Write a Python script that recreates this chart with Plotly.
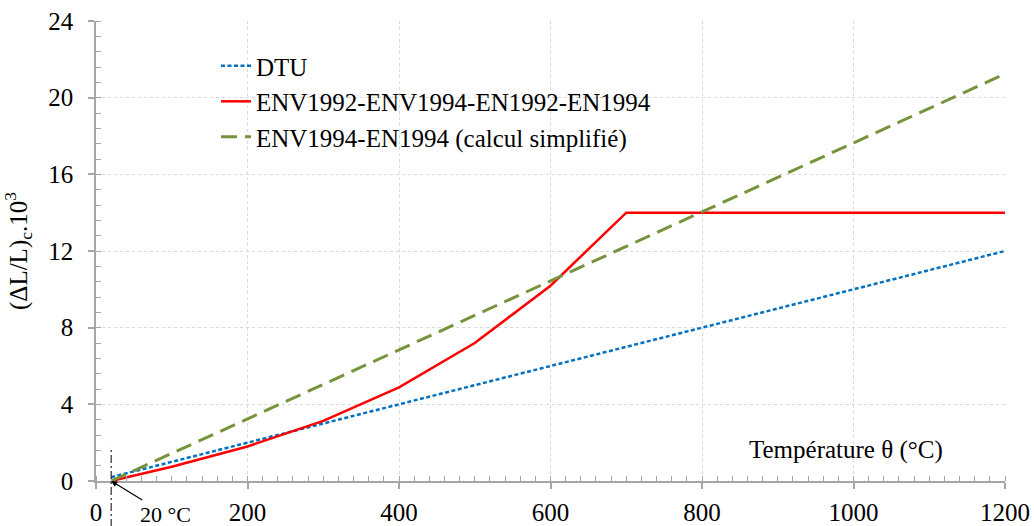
import plotly.graph_objects as go

# Data
theta_dtu = [20, 1200]
dtu = [0.2, 12.0]

theta_en = [20, 100, 200, 300, 400, 500, 600, 700, 800, 900, 1000, 1100, 1200]
en = [0.0, 0.74, 1.80, 3.14, 4.89, 7.20, 10.19, 14.0, 14.0, 14.0, 14.0, 14.0, 14.0]

theta_simp = [20, 1200]
simp = [0.0, 21.24]

names = ["DTU", "ENV1992-ENV1994-EN1992-EN1994", "ENV1994-EN1994 (calcul simplifié)"]

FONT = "Liberation Serif"
AXC = "#a6a6a6"

fig = go.Figure()
fig.add_trace(go.Scatter(x=theta_dtu, y=dtu, mode="lines", name=names[0],
                         line=dict(color="#0070c0", width=2.5, dash="4px,2.5px")))
fig.add_trace(go.Scatter(x=theta_en, y=en, mode="lines", name=names[1],
                         line=dict(color="#ff0000", width=2.5)))
fig.add_trace(go.Scatter(x=theta_simp, y=simp, mode="lines", name=names[2],
                         line=dict(color="#77933c", width=3, dash="16px,8px")))

fig.update_layout(
    width=1034, height=526,
    margin=dict(l=96, r=29, t=21, b=45),
    paper_bgcolor="white", plot_bgcolor="white",
    font=dict(family=FONT, size=25, color="black"),
    showlegend=True,
    legend=dict(x=0.132, y=0.952, xanchor="left", yanchor="top",
                bgcolor="rgba(0,0,0,0)", font=dict(family=FONT, size=25, color="black"),
                tracegroupgap=0),
    xaxis=dict(range=[0, 1200], tickvals=[0, 200, 400, 600, 800, 1000, 1200],
               automargin=False,
               showline=True, linecolor=AXC, linewidth=1.5,
               ticks="outside", ticklen=6, tickcolor=AXC, tickwidth=1.5,
               ticklabelstandoff=2,
               tickfont=dict(family=FONT, size=25, color="black"),
               showgrid=True, gridcolor="#d9d9d9", griddash="dot", gridwidth=1,
               zeroline=False,
               minor=dict(dtick=20, ticks="inside", ticklen=5, tickcolor=AXC, tickwidth=1, showgrid=False)),
    yaxis=dict(range=[0, 24], tickvals=[0, 4, 8, 12, 16, 20, 24],
               automargin=False,
               showline=True, linecolor=AXC, linewidth=1.5,
               ticks="outside", ticklen=6, tickcolor=AXC, tickwidth=1.5,
               ticklabelstandoff=10,
               tickfont=dict(family=FONT, size=25, color="black"),
               showgrid=True, gridcolor="#d9d9d9", griddash="dot", gridwidth=1,
               zeroline=False,
               title=dict(text="(ΔL/L)<sub>c</sub>.10<sup>3</sup>", standoff=14,
                          font=dict(family=FONT, size=25, color="black")),
               minor=dict(dtick=0.8, ticks="inside", ticklen=5, tickcolor=AXC, tickwidth=1, showgrid=False)),
)

# 20 °C vertical dash-dot marker
fig.add_shape(type="line", xref="x", yref="paper", x0=20, x1=20, y0=-0.1, y1=0.074,
              line=dict(color="black", width=1, dash="8px,3px,2px,3px"))

fig.add_annotation(x=20, y=0, xref="x", yref="y", text="20 °C", showarrow=True,
                   ax=54, ay=33, arrowhead=2, arrowsize=1, arrowwidth=1.2, arrowcolor="black",
                   font=dict(family=FONT, size=22, color="black"))

fig.add_annotation(x=990, y=1.62, xref="x", yref="y", xanchor="center", yanchor="middle",
                   text="Température θ (°C)", showarrow=False,
                   font=dict(family=FONT, size=25, color="black"))

fig.write_html("out.html", config={"displayModeBar": False},
               post_script="document.body.style.margin='0px';")
